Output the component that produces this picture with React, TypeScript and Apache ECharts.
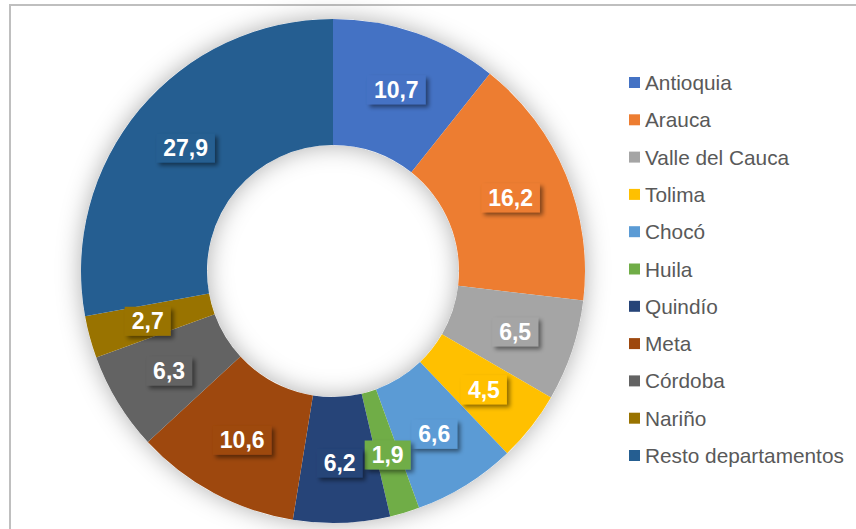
import React, { useEffect, useRef } from "react";
import * as echarts from "echarts";

const categories = [
  "Antioquia",
  "Arauca",
  "Valle del Cauca",
  "Tolima",
  "Chocó",
  "Huila",
  "Quindío",
  "Meta",
  "Córdoba",
  "Nariño",
  "Resto departamentos",
];
const values = [10.7, 16.2, 6.5, 4.5, 6.6, 1.9, 6.2, 10.6, 6.3, 2.7, 27.9];
const colors = [
  "#4472C4",
  "#ED7D31",
  "#A5A5A5",
  "#FFC000",
  "#5B9BD5",
  "#70AD47",
  "#264478",
  "#9E480E",
  "#636363",
  "#997300",
  "#255E91",
];

export default function App() {
  const ref = useRef<HTMLDivElement>(null);
  useEffect(() => {
    if (!ref.current) return;
    const chart = echarts.init(ref.current, null, { renderer: "svg" });
    const center = [333, 271];
    const radius = [126, 252];
    chart.setOption({
      animation: false,
      backgroundColor: "#ffffff",
      graphic: [
        {
          type: "rect",
          shape: { x: 10, y: 5, width: 900, height: 600 },
          style: { fill: "none", stroke: "#BFBFBF", lineWidth: 2 },
          silent: true,
          z: -10,
        },
      ],
      legend: {
        orient: "vertical",
        left: 629,
        top: 72,
        padding: 0,
        itemWidth: 11,
        itemHeight: 11,
        itemGap: 16.3,
        icon: "rect",
        data: categories,
        textStyle: {
          fontFamily: "Liberation Sans, Arial, sans-serif",
          fontSize: 20.8,
          lineHeight: 21,
          color: "#595959",
        },
      },
      series: [
        {
          type: "pie",
          center,
          radius,
          silent: true,
          startAngle: 90,
          label: { show: false },
          labelLine: { show: false },
          itemStyle: {
            color: "#ffffff",
            shadowBlur: 24,
            shadowColor: "rgba(0,0,0,0.32)",
          },
          data: [{ name: "__bg", value: 1 }],
        },
        {
          type: "pie",
          center,
          radius,
          startAngle: 90,
          clockwise: true,
          avoidLabelOverlap: false,
          data: categories.map((name, i) => ({
            name,
            value: values[i],
            itemStyle: { color: colors[i] },
            label: { backgroundColor: colors[i] },
          })),
          label: {
            show: true,
            position: "inside",
            formatter: (p: any) => String(p.value).replace(".", ","),
            color: "#ffffff",
            fontFamily: "Liberation Sans, Arial, sans-serif",
            fontWeight: "bold",
            fontSize: 23,
            lineHeight: 23,
            padding: [3, 7],
            shadowColor: "rgba(0,0,0,0.45)",
            shadowBlur: 4,
            shadowOffsetX: 3,
            shadowOffsetY: 3,
          },
          labelLine: { show: false },
        },
      ],
    });
    return () => chart.dispose();
  }, []);
  return (
    <div
      ref={ref}
      style={{ position: "fixed", left: 0, top: 0, width: 856, height: 529 }}
    />
  );
}
